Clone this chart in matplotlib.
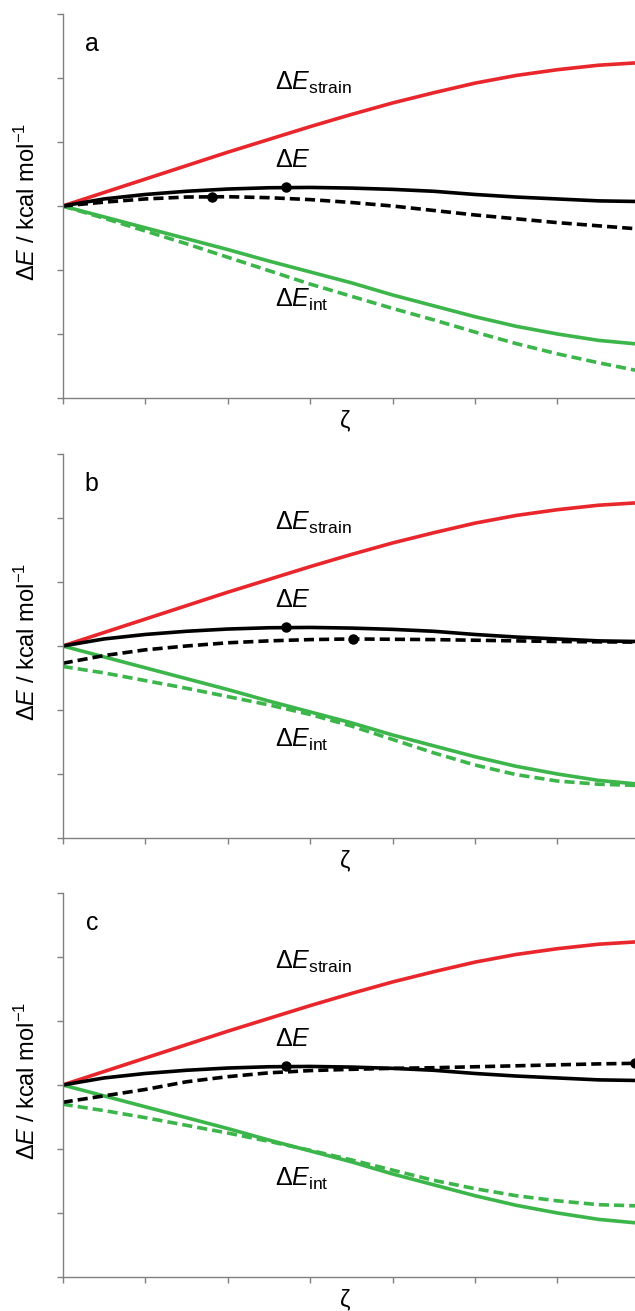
import matplotlib
matplotlib.use('Agg')
import matplotlib.pyplot as plt
import numpy as np

plt.rcParams['font.family'] = ['Liberation Sans', 'DejaVu Sans']
plt.rcParams['mathtext.fontset'] = 'custom'
plt.rcParams['mathtext.rm'] = 'Liberation Sans'
plt.rcParams['mathtext.it'] = 'Liberation Sans:italic'

# reaction coordinate
zeta = [0, 0.5, 1, 1.5, 2, 2.5, 3, 3.5, 4, 4.5, 5, 5.5, 6, 6.5, 7]

# reference curves (solid), the same in all three panels
strain = [0, 0.21, 0.42, 0.63, 0.84, 1.04, 1.24, 1.43, 1.61, 1.77, 1.92, 2.04, 2.13, 2.20, 2.24]
e_tot = [0, 0.11, 0.18, 0.23, 0.265, 0.285, 0.29, 0.28, 0.26, 0.23, 0.18, 0.14, 0.11, 0.08, 0.07]
e_int = [0, -0.17, -0.34, -0.51, -0.68, -0.86, -1.03, -1.20, -1.39, -1.56, -1.73, -1.88, -2.00, -2.10, -2.16]
ts_solid = (2.71, 0.29)

# perturbed curves (dashed), one set per panel
e_tot_dash = {
    'a': [0, 0.06, 0.11, 0.14, 0.145, 0.13, 0.10, 0.055, 0.0, -0.07, -0.14, -0.20, -0.26, -0.31, -0.36],
    'b': [-0.27, -0.15, -0.06, 0.0, 0.05, 0.08, 0.10, 0.11, 0.105, 0.10, 0.09, 0.08, 0.07, 0.065, 0.06],
    'c': [-0.27, -0.17, -0.07, 0.05, 0.13, 0.19, 0.225, 0.245, 0.26, 0.27, 0.285, 0.30, 0.315, 0.33, 0.34],
}
e_int_dash = {
    'a': [0, -0.19, -0.39, -0.59, -0.80, -1.01, -1.22, -1.41, -1.60, -1.78, -1.97, -2.15, -2.31, -2.45, -2.58],
    'b': [-0.32, -0.42, -0.54, -0.66, -0.79, -0.92, -1.07, -1.25, -1.46, -1.67, -1.86, -2.01, -2.11, -2.16, -2.18],
    'c': [-0.30, -0.40, -0.51, -0.63, -0.75, -0.88, -1.02, -1.17, -1.33, -1.49, -1.62, -1.73, -1.81, -1.87, -1.89],
}
ts_dash = {'a': (1.81, 0.145), 'b': (3.52, 0.11), 'c': (6.94, 0.34)}

red = '#e8262b'
green = '#3cb54a'
dash = (0, (2.8, 1.4))
lw = 2.6

W, H = 635, 1311
fig = plt.figure(figsize=(W / 100, H / 100), dpi=100)

left = 62.7 / W
bottoms = [398, 838, 1277]  # pixel rows of the x axes

for panel, yb in zip(['a', 'b', 'c'], bottoms):
    ax = fig.add_axes([left, (H - yb) / H, 1 - left, 384 / H])

    ax.plot(zeta, strain, color=red, lw=lw, solid_joinstyle='round')
    ax.plot(zeta, e_int_dash[panel], color=green, lw=lw, ls=dash)
    ax.plot(zeta, e_int, color=green, lw=lw, solid_joinstyle='round')
    ax.plot(zeta, e_tot_dash[panel], color='black', lw=lw, ls=dash)
    ax.plot(zeta, e_tot, color='black', lw=lw, solid_joinstyle='round')
    ax.plot(*ts_solid, 'o', color='black', ms=6.5)
    ax.plot(*ts_dash[panel], 'o', color='black', ms=6.5)

    ax.set_xlim(0, 6.94)
    ax.set_ylim(-3, 3)
    ax.set_xticks(np.arange(0, 7, 1))
    ax.set_yticks(np.arange(-3, 4, 1))
    ax.set_xticklabels([])
    ax.set_yticklabels([])
    ax.tick_params(direction='out', length=4, width=1, color='#808080')
    for s in ['top', 'right']:
        ax.spines[s].set_visible(False)
    for s in ['left', 'bottom']:
        ax.spines[s].set_color('#808080')
        ax.spines[s].set_linewidth(1)

    ax.text(2.57, 1.92, r'$\Delta E_{\mathrm{strain}}$', fontsize=18, va='center', ha='left')
    ax.text(2.57, 0.72, r'$\Delta E$', fontsize=18, va='center', ha='left')
    ax.text(2.57, -1.47, r'$\Delta E_{\mathrm{int}}$', fontsize=18, va='center', ha='left')
    ax.text(0.051, 0.923, panel, transform=ax.transAxes, fontsize=18, ha='center', va='center')
    ax.text(0.493, -0.06, 'ζ', transform=ax.transAxes, fontsize=17, ha='center', va='center')
    ax.text(-0.062, 0.51, r'$\Delta E$ / kcal mol$^{\mathrm{-1}}$', transform=ax.transAxes,
            fontsize=17, rotation=90, ha='center', va='center')

fig.savefig('out.png', dpi=100)
